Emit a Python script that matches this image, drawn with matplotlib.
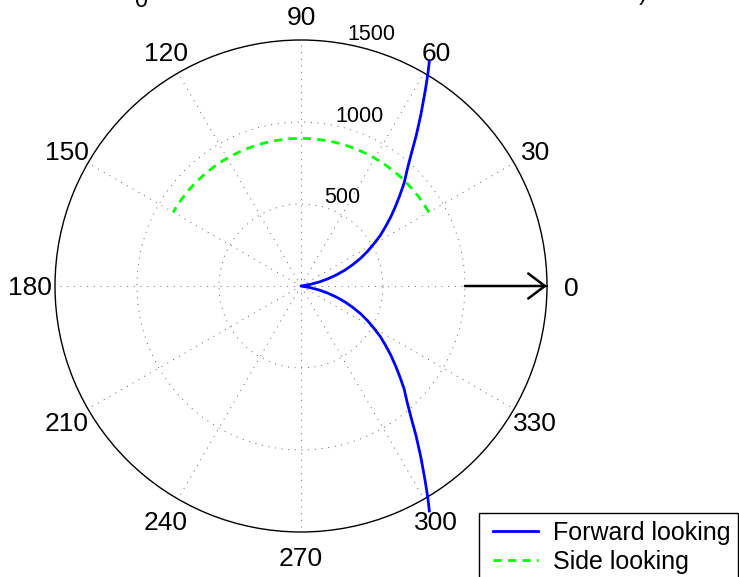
import matplotlib
matplotlib.use("Agg")
import matplotlib.pyplot as plt
from matplotlib.patches import Rectangle
import numpy as np

plt.rcParams['font.family'] = ['Liberation Sans', 'DejaVu Sans']

# forward looking branch, mirrored about 0 deg
fwd_theta_deg = [7.5, 10, 12.5, 15, 17.5, 20, 22.5, 25, 27.5, 30, 32.5, 35, 37.5,
                 40, 42.5, 45, 47.5, 50, 52.5, 55, 57.5, 59, 60, 60.3]
fwd_r = [0, 57, 115, 171, 229, 287, 343, 402, 457, 512, 573, 628, 689,
         750, 817, 890, 957, 1043, 1153, 1274, 1409, 1500, 1561, 1579]

# side looking arc
side_theta_deg = [30, 150]
side_r = 900

r_max = 1500
r_ticks = [500, 1000]
r_labels = ['500', '1000', '1500']
r_label_vals = [500, 1000, 1500]
theta_ticks = list(range(0, 360, 30))

fig = plt.figure(figsize=(7.39, 5.77), dpi=100)
ax = fig.add_axes([55 / 739, 45 / 577, 492 / 739, 492 / 577], projection='polar')

# blue forward looking curve: lower branch (300 deg side) then upper branch
th = np.deg2rad(np.concatenate([-np.array(fwd_theta_deg)[::-1], np.array(fwd_theta_deg)]))
rr = np.concatenate([np.array(fwd_r)[::-1], np.array(fwd_r)])
ax.plot(th, rr, color=(0, 0, 1), lw=2, label='Forward looking', clip_on=False, zorder=4)

# green dashed side looking arc
ts = np.deg2rad(np.linspace(side_theta_deg[0], side_theta_deg[1], 200))
ax.plot(ts, np.full_like(ts, side_r), color=(0, 1, 0), lw=2, ls=(0, (3, 2.2)),
        label='Side looking', zorder=3)

# arrow along 0 deg
ax.annotate('', xy=(0, r_max), xytext=(0, 1000),
            arrowprops=dict(arrowstyle='->,head_length=0.6,head_width=0.45', lw=1.8,
                            color='k', shrinkA=0, shrinkB=0, mutation_scale=20),
            zorder=5)

ax.set_rlim(0, r_max)
ax.set_rticks(r_ticks)
ax.set_thetagrids(theta_ticks, labels=[''] * len(theta_ticks))
ax.set_yticklabels([])
ax.grid(True, color='0.3', lw=0.6, ls=(0, (1.2, 6.8)))
ax.spines['polar'].set_linewidth(1.0)
ax.spines['polar'].set_color('k')
ax.tick_params(length=0)

for a in theta_ticks:
    ax.text(np.deg2rad(a), 1.1 * r_max, str(a), ha='center', va='center_baseline', fontsize=19)

for v, lab in zip(r_label_vals, r_labels):
    ax.annotate(lab, xy=(np.deg2rad(82), v + 25), xytext=(8, -1.5), textcoords='offset points',
                ha='left', va='baseline', fontsize=15.5, annotation_clip=False)

# legend frame (runs past the bottom edge, as in the reference)
fig.patches.append(Rectangle((479 / 739, -20 / 577), 259 / 739, 84 / 577,
                             transform=fig.transFigure, facecolor='white',
                             edgecolor='k', lw=1.0, zorder=5))
leg = fig.legend(loc='upper left', bbox_to_anchor=(493 / 739, 1 - 521 / 577),
                 bbox_transform=fig.transFigure, borderaxespad=0, fontsize=18,
                 frameon=False, handlelength=1.8, handletextpad=0.6, borderpad=0,
                 labelspacing=0.2)
leg.set_zorder(6)

# clipped remnants of text above the figure
fig.text(141 / 739, 1 - 1 / 577, '0', ha='center', va='center', fontsize=17)
fig.text(643 / 739, 1 + 6 / 577, ')', ha='center', va='center', fontsize=17)

fig.savefig('out.png', dpi=100)
